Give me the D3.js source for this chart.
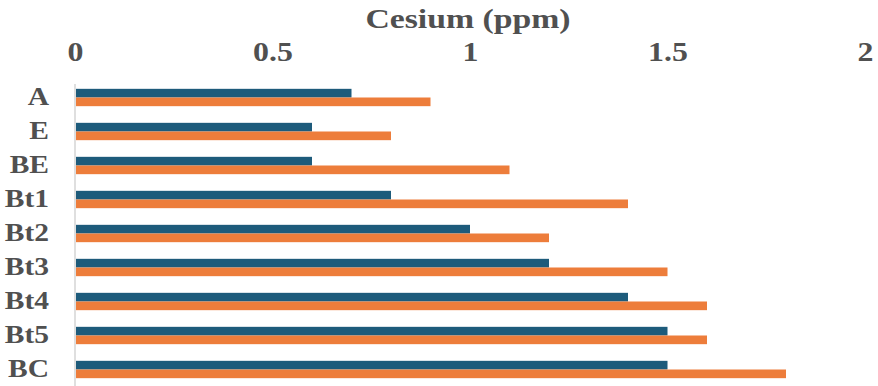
<!DOCTYPE html>
<html>
<head>
<meta charset="utf-8">
<script src="https://cdn.jsdelivr.net/npm/d3@7"></script>
<style>
  html, body { margin: 0; padding: 0; background: #ffffff; }
  svg { display: block; }
  text { font-family: "Liberation Serif", "Times New Roman", serif; font-weight: 700; fill: #505050; }
</style>
</head>
<body>
<svg id="chart" width="878" height="386"></svg>
<script>
const categories = ["A", "E", "BE", "Bt1", "Bt2", "Bt3", "Bt4", "Bt5", "BC"];
const series1 = [0.7, 0.6, 0.6, 0.8, 1.0, 1.2, 1.4, 1.5, 1.5];
const series2 = [0.9, 0.8, 1.1, 1.4, 1.2, 1.5, 1.6, 1.6, 1.8];
const tickValues = [0, 0.5, 1, 1.5, 2];
const tickLabels = ["0", "0.5", "1", "1.5", "2"];
const axisTitle = "Cesium (ppm)";
const colors = ["#1d5b7b", "#ed7d3b"];

const svg = d3.select("#chart");
const W = 878, H = 386;
const stretch = 1.18;

const x = d3.scaleLinear().domain([0, 2]).range([75, 865]);
const y = d3.scaleBand().domain(categories).range([80.5, 386.5]).paddingInner(0.49).paddingOuter(0.245);
const sub = d3.scaleBand().domain([0, 1]).range([0, y.bandwidth()]);

// vertical axis line
svg.append("line")
  .attr("x1", x(0)).attr("x2", x(0))
  .attr("y1", 84).attr("y2", H)
  .attr("stroke", "#d4d4d4").attr("stroke-width", 1.5);

// bars
const data = categories.map((c, i) => ({ c, v: [series1[i], series2[i]] }));
const g = svg.append("g");
data.forEach(d => {
  d.v.forEach((v, k) => {
    g.append("rect")
      .attr("x", x(0) + 1)
      .attr("y", y(d.c) + sub(k))
      .attr("width", x(v) - x(0) - 1)
      .attr("height", sub.bandwidth())
      .attr("fill", colors[k]);
  });
});

// top axis tick labels
const xAxis = d3.axisTop(x).tickValues(tickValues).tickFormat((d, i) => tickLabels[i]).tickSize(0).tickPadding(0);
const ax = svg.append("g").attr("transform", "translate(0,61)").call(xAxis);
ax.select(".domain").remove();
ax.attr("font-family", null).attr("font-size", null);
ax.selectAll(".tick text")
  .attr("x", 0).attr("y", 0).attr("dy", 0)
  .attr("font-size", 27)
  .attr("fill", null)
  .attr("transform", `scale(${stretch},1)`);

// category labels
const yAxis = d3.axisLeft(y).tickSize(0).tickPadding(0);
const ay = svg.append("g").attr("transform", "translate(49,0)").call(yAxis);
ay.select(".domain").remove();
ay.attr("font-family", null).attr("font-size", null);
ay.selectAll(".tick text")
  .attr("x", 0).attr("dy", 0).attr("y", 7)
  .attr("font-size", 25)
  .attr("fill", null)
  .attr("text-anchor", "end")
  .attr("transform", `scale(${stretch},1)`);

// axis title
svg.append("text")
  .attr("transform", `translate(468,28) scale(1.25,1)`)
  .attr("text-anchor", "middle")
  .attr("font-size", 27)
  .text(axisTitle);
</script>
</body>
</html>
